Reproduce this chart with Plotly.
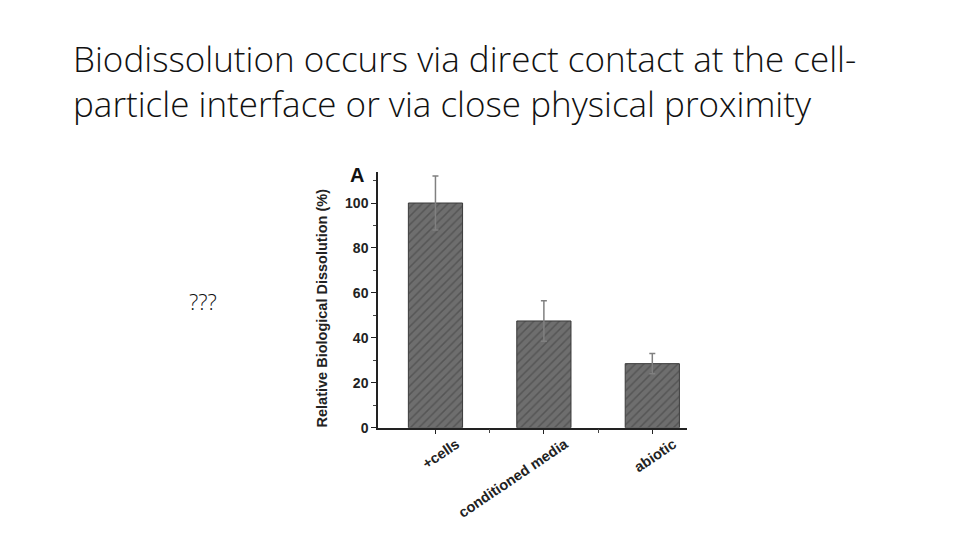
import plotly.graph_objects as go

# data
categories = ["+cells", "conditioned media", "abiotic"]
dissolution = [100, 47.5, 28.5]
errors = [12, 9, 4.5]

y_ticks = [0, 20, 40, 60, 80, 100]
y_minor_ticks = [10, 30, 50, 70, 90, 110]

TITLE_LINES = [
    "Biodissolution occurs via direct contact at the cell-",
    "particle interface or via close physical proximity",
]
Y_TITLE = "Relative Biological Dissolution (%)"
AXIS_FONT = "Liberation Sans"
SLIDE_FONT = "Open Sans"

# the page puts the figure 8px in from the top-left corner
OFFSET = 8


def px(x):
    return (x - OFFSET) / 960


def py(y):
    return 1 - (y - OFFSET) / 540


positions = list(range(len(categories)))
between = [p + 0.5 for p in positions[:-1]]

fig = go.Figure(
    go.Bar(
        x=positions,
        y=dissolution,
        width=0.5,
        marker=dict(
            color="#6b6b6b",
            line=dict(color="#3a3a3a", width=1),
            pattern=dict(shape="/", fgcolor="#3c3c3c", bgcolor="#6e6e6e", size=6, solidity=0.25),
        ),
        error_y=dict(type="data", array=errors, color="#808080", thickness=1.5, width=3),
    )
)

fig.update_layout(
    width=960,
    height=540,
    margin=dict(l=0, r=0, t=0, b=0),
    paper_bgcolor="white",
    plot_bgcolor="white",
    showlegend=False,
    xaxis=dict(
        domain=[px(378), px(687)],
        range=[-0.53, 2.32],
        tickvals=positions,
        ticktext=categories,
        showline=True,
        linecolor="#222",
        linewidth=1.5,
        showgrid=False,
        zeroline=False,
        ticks="outside",
        ticklen=5,
        tickcolor="#222",
        minor=dict(tickvals=between, ticks="outside", ticklen=4, tickcolor="#444", showgrid=False),
        tickangle=-34,
        ticklabelshift=21,
        ticklabelstandoff=-4,
        tickfont=dict(family=AXIS_FONT, size=14.5, color="#222", weight="bold"),
    ),
    yaxis=dict(
        domain=[py(434), py(174)],
        range=[0, 114],
        tickvals=y_ticks,
        showline=True,
        linecolor="#222",
        linewidth=1.5,
        ticks="outside",
        ticklen=5,
        tickcolor="#222",
        showgrid=False,
        zeroline=False,
        minor=dict(tickvals=y_minor_ticks, ticks="outside", ticklen=3, tickcolor="#444", showgrid=False),
        tickfont=dict(family=AXIS_FONT, size=14, color="#222", weight="bold"),
    ),
)

# y axis title sits a little below the middle of the axis
fig.add_annotation(
    text=Y_TITLE, xref="paper", yref="paper",
    x=px(322), y=py(313), textangle=-90,
    xanchor="center", yanchor="middle", showarrow=False,
    font=dict(family=AXIS_FONT, size=14.5, color="#222", weight="bold"),
)

# slide title
for i, line in enumerate(TITLE_LINES):
    fig.add_annotation(
        text=line,
        xref="paper", yref="paper",
        x=px(71), y=py(59 + i * 46),
        xanchor="left", yanchor="middle",
        showarrow=False,
        font=dict(family=SLIDE_FONT, size=35, color="#111", weight=300),
    )

fig.add_annotation(
    text="A", xref="paper", yref="paper",
    x=px(357), y=py(178),
    xanchor="center", yanchor="middle", showarrow=False,
    font=dict(family=AXIS_FONT, size=20, color="#111", weight="bold"),
)

fig.add_annotation(
    text="???", xref="paper", yref="paper",
    x=px(187), y=py(305),
    xanchor="left", yanchor="middle", showarrow=False,
    font=dict(family=SLIDE_FONT, size=22, color="#111", weight=300),
)

fig.write_html("out.html")
